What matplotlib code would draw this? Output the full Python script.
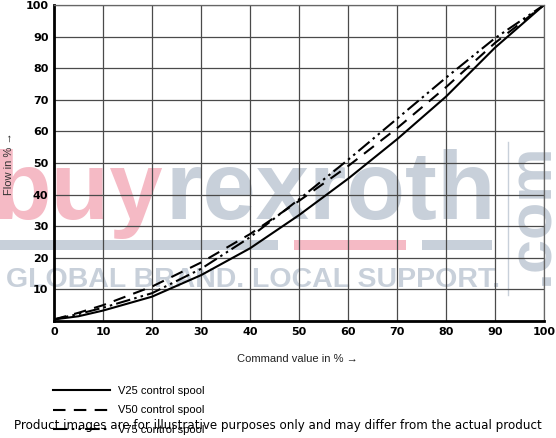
import matplotlib
matplotlib.use('Agg')
import matplotlib.pyplot as plt

command = [0, 5, 10, 20, 30, 40, 50, 60, 70, 80, 90, 100]
v25 = [0.5, 1.5, 3.3, 7.7, 14.5, 23.0, 33.5, 45.0, 57.5, 71.0, 86.5, 100]
v50 = [0.5, 2.6, 5.0, 10.9, 18.5, 27.5, 38.0, 49.0, 61.0, 74.0, 88.0, 100]
v75 = [0.5, 2.2, 4.2, 8.8, 16.5, 26.5, 38.5, 51.0, 64.0, 77.0, 89.5, 100]
ticks = [0, 10, 20, 30, 40, 50, 60, 70, 80, 90, 100]
labels = ['V25 control spool', 'V50 control spool', 'V75 control spool']

W, H = 556, 438
def fx(px):
    return px / W
def fy(py):
    return 1 - py / H

fig = plt.figure(figsize=(W/100, H/100), dpi=100)
ax = fig.add_axes([fx(54), fy(321), 490/W, 316/H])
ax.set_facecolor('none')

ax.plot(command, v25, color='black', lw=1.5, ls='-', label=labels[0])
ax.plot(command, v50, color='black', lw=1.5, ls=(0, (6, 4)), label=labels[1])
ax.plot(command, v75, color='black', lw=1.5, ls=(0, (7, 2, 1.2, 2, 1.2, 2)), label=labels[2])

ax.set_xlim(0, 100)
ax.set_ylim(0, 100)
ax.set_xticks(ticks)
ax.set_yticks(ticks)
ax.set_yticklabels(['' if t == 0 else str(t) for t in ticks])
ax.grid(True, color='#4a4a4a', lw=0.9)
ax.tick_params(length=0, labelsize=8, pad=4)
for lab in ax.get_xticklabels() + ax.get_yticklabels():
    lab.set_fontweight('bold')
for s in ['top', 'right']:
    ax.spines[s].set_color('#666666')
    ax.spines[s].set_linewidth(0.9)
for s in ['left', 'bottom']:
    ax.spines[s].set_linewidth(2)

ax.set_xlabel('Command value in % →', family='Liberation Sans', fontsize=8, color='#222222')
ax.xaxis.set_label_coords(0.496, -0.106)
ax.set_ylabel('Flow in % →', family='Liberation Sans', fontsize=8, color='#333333')
ax.yaxis.set_label_coords(-0.082, 0.497)

fig.legend(loc='upper left', bbox_to_anchor=(fx(53), fy(386)), frameon=False,
           prop={'family': 'Liberation Sans', 'size': 8}, handlelength=5.1, handletextpad=0.72,
           labelspacing=0.85, borderpad=0, borderaxespad=0)

# watermark (behind the grid)
pink = '#f5bac5'
grey = '#c8d0da'
wm = dict(family='Liberation Sans', fontweight='bold', zorder=-5)
fig.text(fx(-7), fy(219), 'buy', color=pink, fontsize=69, va='baseline', **wm)
fig.text(fx(166), fy(219), 'rexroth', color=grey, fontsize=69, va='baseline', **wm)
fig.text(fx(548), fy(285), '.com', color=grey, fontsize=44, rotation=90,
         rotation_mode='anchor', ha='left', va='baseline', **wm)
fig.text(fx(500), fy(287), 'GLOBAL BRAND. LOCAL SUPPORT.', color=grey, fontsize=20.5,
         ha='right', va='baseline', **wm)
for x0, x1, c in [(0, 278, grey), (294, 406, pink), (422, 492, grey)]:
    fig.patches.append(plt.Rectangle((fx(x0), fy(250)), (x1 - x0)/W, 10/H,
                                     transform=fig.transFigure, color=c, lw=0, zorder=-5))
fig.lines.append(plt.Line2D([fx(508), fx(508)], [fy(142), fy(295)], transform=fig.transFigure,
                            color=grey, lw=1, zorder=-5))

fig.text(0.5, fy(426), 'Product images are for illustrative purposes only and may differ from the actual product',
         ha='center', va='center', fontsize=8.6, color='black')

fig.savefig('out.png', dpi=100)
